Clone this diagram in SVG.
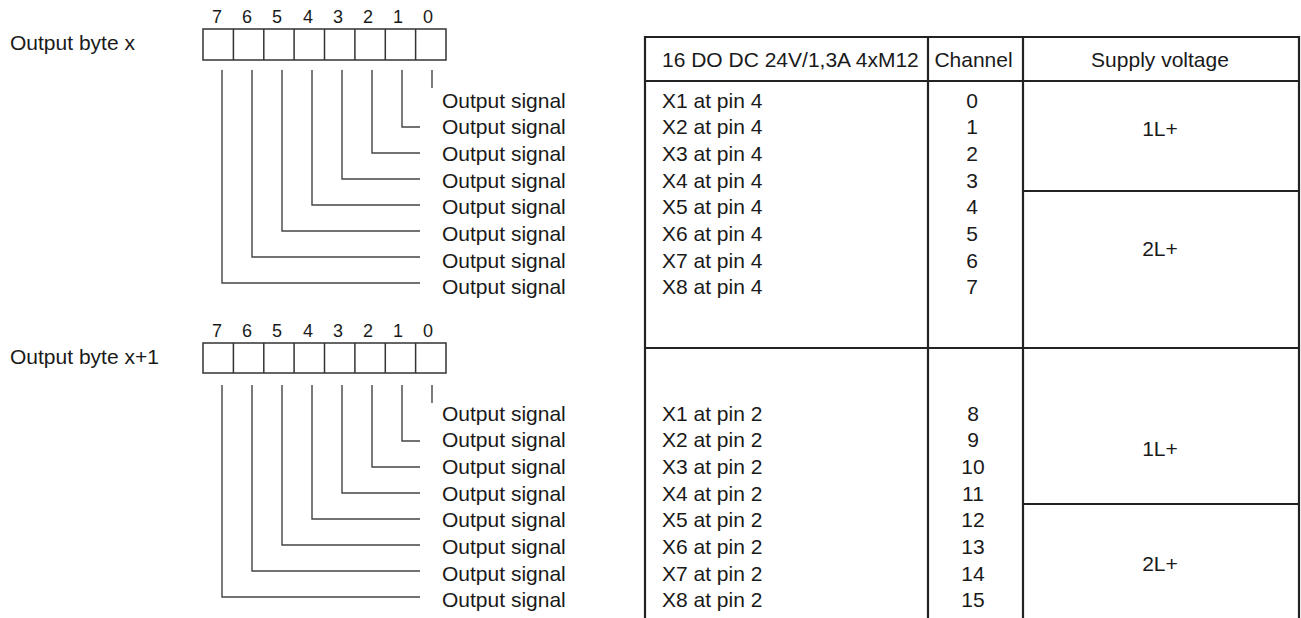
<svg xmlns="http://www.w3.org/2000/svg" width="1301" height="618" viewBox="0 0 1301 618">
<style>
text{font-family:"Liberation Sans",Arial,sans-serif;font-size:21px;fill:#1a1a1a}
.d{font-size:18px;text-anchor:middle}
.m{text-anchor:middle}
.box{fill:none;stroke:#333;stroke-width:1.5}
.cell{stroke:#333;stroke-width:1.5}
.c{fill:none;stroke:#444;stroke-width:1.4}
.t{fill:none;stroke:#222;stroke-width:2.2}
</style>
<rect width="1301" height="618" fill="#fff"/>

<g id="byte-x">
  <text x="10" y="50">Output byte x</text>
  <g class="d">
    <text class="d" x="217" y="23">7</text><text class="d" x="247" y="23">6</text><text class="d" x="277" y="23">5</text><text class="d" x="308" y="23">4</text>
    <text class="d" x="338" y="23">3</text><text class="d" x="368" y="23">2</text><text class="d" x="398" y="23">1</text><text class="d" x="428" y="23">0</text>
  </g>
  <rect class="box" x="203" y="29" width="243" height="31"/>
  <path class="cell" d="M233.4 29V60M263.8 29V60M294.1 29V60M324.5 29V60M354.9 29V60M385.3 29V60M415.6 29V60"/>
</g>

<g id="byte-x1">
  <text x="10" y="364">Output byte x+1</text>
  <text class="d" x="217" y="337">7</text><text class="d" x="247" y="337">6</text><text class="d" x="277" y="337">5</text><text class="d" x="308" y="337">4</text>
  <text class="d" x="338" y="337">3</text><text class="d" x="368" y="337">2</text><text class="d" x="398" y="337">1</text><text class="d" x="428" y="337">0</text>
  <rect class="box" x="203" y="343" width="243" height="30"/>
  <path class="cell" d="M233.4 343V373M263.8 343V373M294.1 343V373M324.5 343V373M354.9 343V373M385.3 343V373M415.6 343V373"/>
</g>

<g id="signals-x">
  <text x="442" y="107.5">Output signal</text>
  <text x="442" y="134.2">Output signal</text>
  <text x="442" y="160.9">Output signal</text>
  <text x="442" y="187.6">Output signal</text>
  <text x="442" y="214.3">Output signal</text>
  <text x="442" y="241">Output signal</text>
  <text x="442" y="267.7">Output signal</text>
  <text x="442" y="294.4">Output signal</text>
</g>

<g id="signals-x1">
  <text x="442" y="420.5">Output signal</text>
  <text x="442" y="447.2">Output signal</text>
  <text x="442" y="473.9">Output signal</text>
  <text x="442" y="500.6">Output signal</text>
  <text x="442" y="527.3">Output signal</text>
  <text x="442" y="554">Output signal</text>
  <text x="442" y="580.7">Output signal</text>
  <text x="442" y="607.4">Output signal</text>
</g>

<g id="connectors">
  <path class="c" d="M432 70V88"/>
  <path class="c" d="M402 70V127H420"/>
  <path class="c" d="M372 70V153H420"/>
  <path class="c" d="M342 70V179H420"/>
  <path class="c" d="M312 70V205H420"/>
  <path class="c" d="M282 70V231H420"/>
  <path class="c" d="M252 70V257H420"/>
  <path class="c" d="M222 70V283H420"/>

  <path class="c" d="M432 385V403"/>
  <path class="c" d="M402 385V441H420"/>
  <path class="c" d="M372 385V467H420"/>
  <path class="c" d="M342 385V493H420"/>
  <path class="c" d="M312 385V519H420"/>
  <path class="c" d="M282 385V545H420"/>
  <path class="c" d="M252 385V571H420"/>
  <path class="c" d="M222 385V597H420"/>
</g>

<g id="table">
  <path class="t" d="M645 625V37H1299V625M928 37V625M1023 37V625M645 81H1299M1023 191H1299M645 348H1299M1023 504H1299"/>
  <text x="662" y="67">16 DO DC 24V/1,3A 4xM12</text>
  <text class="m" x="973.5" y="67">Channel</text>
  <text class="m" x="1160" y="67">Supply voltage</text>
</g>

<g id="rows-pin4">
  <text x="662" y="107.5">X1 at pin 4</text>
  <text x="662" y="134.2">X2 at pin 4</text>
  <text x="662" y="160.9">X3 at pin 4</text>
  <text x="662" y="187.6">X4 at pin 4</text>
  <text x="662" y="214.3">X5 at pin 4</text>
  <text x="662" y="241">X6 at pin 4</text>
  <text x="662" y="267.7">X7 at pin 4</text>
  <text x="662" y="294.4">X8 at pin 4</text>
  <g class="m">
    <text class="m" x="972" y="107.5">0</text>
    <text class="m" x="972" y="134.2">1</text>
    <text class="m" x="972" y="160.9">2</text>
    <text class="m" x="972" y="187.6">3</text>
    <text class="m" x="972" y="214.3">4</text>
    <text class="m" x="972" y="241">5</text>
    <text class="m" x="972" y="267.7">6</text>
    <text class="m" x="972" y="294.4">7</text>
  </g>
  <text class="m" x="1160" y="136">1L+</text>
  <text class="m" x="1160" y="255.5">2L+</text>
</g>

<g id="rows-pin2">
  <text x="662" y="420.5">X1 at pin 2</text>
  <text x="662" y="447.2">X2 at pin 2</text>
  <text x="662" y="473.9">X3 at pin 2</text>
  <text x="662" y="500.6">X4 at pin 2</text>
  <text x="662" y="527.3">X5 at pin 2</text>
  <text x="662" y="554">X6 at pin 2</text>
  <text x="662" y="580.7">X7 at pin 2</text>
  <text x="662" y="607.4">X8 at pin 2</text>
  <text class="m" x="973" y="420.5">8</text>
  <text class="m" x="973" y="447.2">9</text>
  <text class="m" x="973" y="473.9">10</text>
  <text class="m" x="973" y="500.6">11</text>
  <text class="m" x="973" y="527.3">12</text>
  <text class="m" x="973" y="554">13</text>
  <text class="m" x="973" y="580.7">14</text>
  <text class="m" x="973" y="607.4">15</text>
  <text class="m" x="1160" y="455.5">1L+</text>
  <text class="m" x="1160" y="570.5">2L+</text>
</g>
</svg>
